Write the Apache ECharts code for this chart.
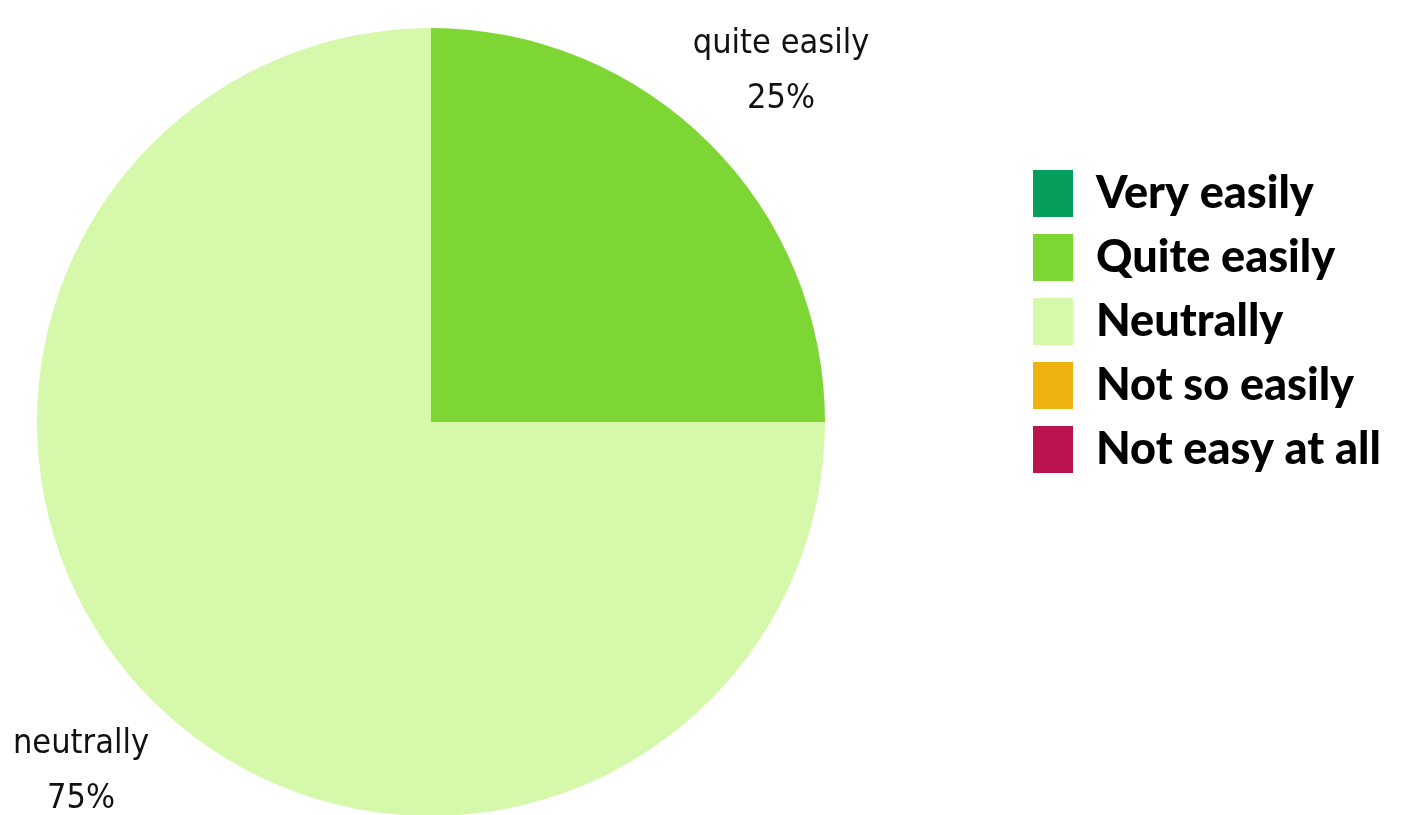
<!DOCTYPE html>
<html>
<head>
<meta charset="utf-8">
<script src="https://cdn.jsdelivr.net/npm/echarts@6/dist/echarts.min.js"></script>
<style>
html,body{margin:0;padding:0;background:#fff;}
#chart{width:1407px;height:815px;}
</style>
</head>
<body>
<div id="chart"></div>
<script>
// Data
const categories = ['Very easily', 'Quite easily', 'Neutrally', 'Not so easily', 'Not easy at all'];
const labelNames = ['very easily', 'quite easily', 'neutrally', 'not so easily', 'not easy at all'];
const values = [0, 25, 75, 0, 0];
const colors = ['#059E5B', '#7DD634', '#D5F8AA', '#EFB30F', '#B9144F'];

const chart = echarts.init(document.getElementById('chart'), null, {renderer: 'canvas'});

const realData = categories.map((c, i) => ({
  name: c, value: values[i], itemStyle: {color: colors[i]}
}));
const labelData = categories.map((c, i) => ({
  name: c, value: values[i],
  itemStyle: {color: 'rgba(0,0,0,0)'},
  label: {show: values[i] > 0}
}));

const labelFont = '"Liberation Sans Narrow", "DejaVu Sans Condensed", "Arial Narrow", sans-serif';

chart.setOption({
  animation: false,
  backgroundColor: '#ffffff',
  legend: {
    orient: 'vertical',
    left: 1028,
    top: 165,
    itemWidth: 40,
    itemHeight: 47,
    itemGap: 17,
    icon: 'rect',
    data: categories,
    selectedMode: false,
    textStyle: {
      fontFamily: 'Lato, "Open Sans", sans-serif',
      fontWeight: 900,
      fontSize: 45,
      color: '#000',
      padding: [0, 0, 0, 18]
    }
  },
  series: [
    {
      type: 'pie',
      center: [431, 422],
      radius: [0, 394],
      startAngle: 90,
      clockwise: true,
      silent: true,
      label: {show: false},
      labelLine: {show: false},
      data: realData
    },
    {
      type: 'pie',
      center: [431, 422],
      radius: [462, 522],
      startAngle: 90,
      clockwise: true,
      silent: true,
      labelLine: {show: false},
      label: {
        show: true,
        position: 'inside',
        fontFamily: labelFont,
        fontSize: 34,
        lineHeight: 55,
        color: '#111',
        formatter: function (p) {
          return labelNames[p.dataIndex] + '\n' + Math.round(p.percent) + '%';
        }
      },
      data: labelData
    }
  ]
});
</script>
</body>
</html>
